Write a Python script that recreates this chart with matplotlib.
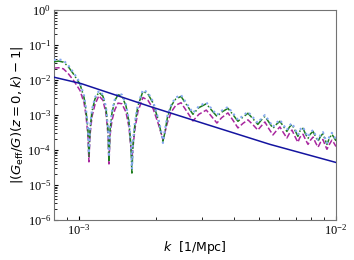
import numpy as np
import matplotlib
matplotlib.use("Agg")
import matplotlib.pyplot as plt

# wavenumber samples [1/Mpc]
k = np.array([
    8.00e-4, 8.35e-4, 8.70e-4, 9.05e-4, 9.55e-4, 1.010e-3, 1.047e-3, 1.065e-3,
    1.085e-3, 1.094e-3, 1.104e-3, 1.124e-3, 1.155e-3, 1.196e-3, 1.240e-3,
    1.275e-3, 1.299e-3, 1.309e-3, 1.321e-3, 1.345e-3, 1.380e-3, 1.420e-3,
    1.470e-3, 1.525e-3, 1.566e-3, 1.594e-3, 1.608e-3, 1.622e-3, 1.652e-3,
    1.697e-3, 1.775e-3, 1.856e-3, 1.944e-3, 2.036e-3, 2.094e-3, 2.123e-3,
    2.153e-3, 2.213e-3, 2.293e-3, 2.384e-3, 2.497e-3, 2.630e-3, 2.778e-3,
    2.930e-3, 3.130e-3, 3.263e-3, 3.443e-3, 3.590e-3, 3.800e-3, 3.975e-3,
    4.157e-3, 4.348e-3, 4.547e-3, 4.756e-3, 4.966e-3, 5.130e-3, 5.293e-3,
    5.490e-3, 5.689e-3, 5.880e-3, 6.053e-3, 6.240e-3, 6.442e-3, 6.600e-3,
    6.745e-3, 6.930e-3, 7.113e-3, 7.240e-3, 7.443e-3, 7.610e-3, 7.786e-3,
    7.960e-3, 8.147e-3, 8.330e-3, 8.517e-3, 8.710e-3, 8.900e-3, 9.060e-3,
    9.226e-3, 9.430e-3, 9.643e-3, 9.820e-3, 1.0e-2,
])

# log10 |G_eff/G - 1|
log_dotted = np.array([
    -1.43, -1.41, -1.44, -1.56, -1.80, -2.08, -2.45, -2.80,
    -3.40, -4.10, -3.40, -2.85, -2.50, -2.31, -2.42,
    -2.78, -3.40, -4.20, -3.40, -2.90, -2.55, -2.38,
    -2.42, -2.70, -3.15, -3.80, -4.55, -3.80, -3.20,
    -2.70, -2.28, -2.36, -2.62, -3.10, -3.50, -3.80,
    -3.50, -3.00, -2.68, -2.50, -2.43, -2.68, -2.94,
    -2.75, -2.64, -2.80, -3.00, -2.88, -2.77, -2.95,
    -3.14, -3.02, -2.91, -3.07, -3.23, -3.10, -3.00,
    -3.17, -3.34, -3.22, -3.14, -3.28, -3.43, -3.30,
    -3.23, -3.40, -3.57, -3.42, -3.34, -3.50, -3.63,
    -3.50, -3.43, -3.58, -3.71, -3.57, -3.49, -3.65,
    -3.80, -3.62, -3.51, -3.60, -3.70,
])

log_dashdot = np.array([
    -1.48, -1.46, -1.49, -1.60, -1.84, -2.12, -2.50, -2.85,
    -3.45, -4.20, -3.45, -2.90, -2.54, -2.35, -2.46,
    -2.82, -3.45, -4.30, -3.45, -2.94, -2.59, -2.42,
    -2.46, -2.74, -3.20, -3.90, -4.66, -3.90, -3.25,
    -2.74, -2.32, -2.40, -2.66, -3.14, -3.55, -3.75,
    -3.55, -3.05, -2.72, -2.54, -2.47, -2.72, -2.98,
    -2.79, -2.68, -2.84, -3.04, -2.92, -2.81, -2.99,
    -3.18, -3.06, -2.95, -3.11, -3.27, -3.14, -3.04,
    -3.21, -3.38, -3.26, -3.18, -3.32, -3.47, -3.34,
    -3.27, -3.44, -3.61, -3.46, -3.38, -3.54, -3.67,
    -3.54, -3.47, -3.62, -3.75, -3.61, -3.53, -3.69,
    -3.84, -3.66, -3.55, -3.64, -3.74,
])

log_dashed = np.array([
    -1.66, -1.65, -1.68, -1.80, -2.02, -2.30, -2.65, -3.00,
    -3.60, -4.34, -3.60, -3.05, -2.70, -2.45, -2.58,
    -2.95, -3.60, -4.40, -3.60, -3.15, -2.85, -2.66,
    -2.68, -2.92, -3.35, -3.95, -4.25, -3.95, -3.40,
    -2.90, -2.50, -2.58, -2.82, -3.25, -3.55, -3.70,
    -3.55, -3.20, -2.90, -2.72, -2.65, -2.90, -3.17,
    -2.98, -2.86, -3.02, -3.23, -3.08, -2.94, -3.15,
    -3.37, -3.24, -3.14, -3.28, -3.43, -3.31, -3.20,
    -3.40, -3.57, -3.44, -3.34, -3.50, -3.66, -3.52,
    -3.43, -3.62, -3.78, -3.64, -3.55, -3.70, -3.84,
    -3.72, -3.63, -3.79, -3.92, -3.78, -3.70, -3.85,
    -3.98, -3.84, -3.72, -3.80, -3.90,
])

# smooth, non-oscillating curve
k_smooth = np.array([8.0e-4, 1.02e-3, 1.89e-3, 3.24e-3, 5.53e-3, 1.0e-2])
g_smooth = np.array([1.20e-2, 7.9e-3, 1.75e-3, 5.0e-4, 1.45e-4, 4.4e-5])

fig = plt.figure(figsize=(3.54, 2.60), dpi=100)
ax = fig.add_axes([0.1525, 0.154, 0.7965, 0.8075])

ax.plot(k, 10**log_dashed, ls='--', color='#a8279f', lw=1.1, zorder=2)
ax.plot(k, 10**log_dashdot, ls='-.', color='#1e7d1e', lw=1.1, zorder=3)
ax.plot(k, 10**log_dotted, ls=':', color='#86a8f2', lw=1.5, zorder=4)
ax.plot(k_smooth, g_smooth, ls='-', color='#1414a0', lw=1.1, zorder=5)

ax.set_xscale('log')
ax.set_yscale('log')
ax.set_xlim(8.0e-4, 1.0e-2)
ax.set_ylim(1e-6, 1e0)

ax.set_xlabel(r'$k$  [1/Mpc]', fontsize=9, labelpad=1)
ax.set_ylabel(r'$|(G_{\rm eff}/G)(z=0,k)-1|$', fontsize=9.5, labelpad=2)

ax.tick_params(which='both', direction='in', labelsize=9, pad=2)
ax.tick_params(which='major', length=3)
ax.tick_params(which='minor', length=2)
for lab in ax.get_xticklabels() + ax.get_yticklabels():
    lab.set_fontfamily('Liberation Serif')
for sp in ax.spines.values():
    sp.set_color('0.45')

fig.savefig('out.png', dpi=100)
